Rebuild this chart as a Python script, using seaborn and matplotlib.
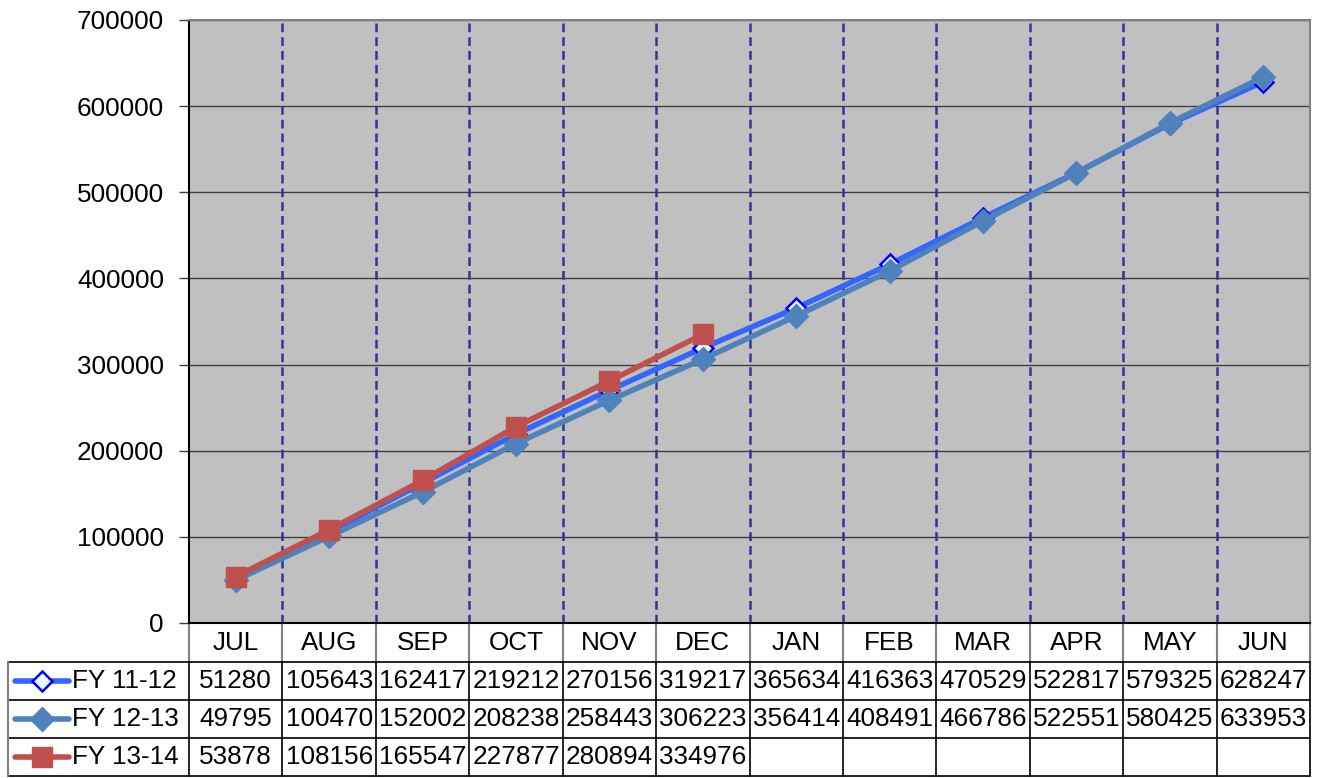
import matplotlib
matplotlib.use("Agg")
import matplotlib.pyplot as plt
import matplotlib.transforms as mtransforms
from matplotlib.lines import Line2D
import seaborn as sns
import pandas as pd
import numpy as np

# data
months = ["JUL", "AUG", "SEP", "OCT", "NOV", "DEC", "JAN", "FEB", "MAR", "APR", "MAY", "JUN"]
fy_11_12 = [51280, 105643, 162417, 219212, 270156, 319217, 365634, 416363, 470529, 522817, 579325, 628247]
fy_12_13 = [49795, 100470, 152002, 208238, 258443, 306223, 356414, 408491, 466786, 522551, 580425, 633953]
fy_13_14 = [53878, 108156, 165547, 227877, 280894, 334976]
series_names = ["FY 11-12", "FY 12-13", "FY 13-14"]

sns.set_style("white")
plt.rcParams["font.family"] = ["Liberation Sans", "DejaVu Sans"]
plt.rcParams["text.color"] = "black"
plt.rcParams["ytick.labelcolor"] = "black"
FS = 18.8

W, H = 1323, 778
fig = plt.figure(figsize=(W / 100, H / 100), dpi=100)
ax = fig.add_axes([189 / W, (H - 623) / H, (1310 - 189) / W, (623 - 20) / H])
ax.set_facecolor("#C0C0C0")

styles = {
    "FY 11-12": dict(color="#3366FF", marker="D", markersize=10, markerfacecolor="#E6FFFF",
                     markeredgecolor="#0000FF", markeredgewidth=1.8),
    "FY 12-13": dict(color="#4F81BD", marker="D", markersize=12, markerfacecolor="#4F81BD",
                     markeredgecolor="#4F81BD", markeredgewidth=1),
    "FY 13-14": dict(color="#C0504D", marker="s", markersize=15, markerfacecolor="#C0504D",
                     markeredgecolor="#C0504D", markeredgewidth=1),
}

rows = []
for name, vals in zip(series_names, [fy_11_12, fy_12_13, fy_13_14]):
    for i, v in enumerate(vals):
        rows.append({"series": name, "pos": i, "value": v})
df = pd.DataFrame(rows)

for k, name in enumerate(series_names):
    sub = df[df["series"] == name]
    sns.lineplot(data=sub, x="pos", y="value", ax=ax, linewidth=4, zorder=3 + k,
                 **styles[name])

ax.set_xlim(-0.5, len(months) - 0.5)
ax.set_ylim(0, 700000)
ax.set_yticks(np.arange(0, 700001, 100000))
ax.set_yticklabels([f"{t}" for t in range(0, 700001, 100000)], fontsize=FS, color="black")
ax.set_xticks([])
ax.set_xlabel("")
ax.set_ylabel("")
ax.tick_params(axis="y", length=7, width=1, color="#404040", pad=11, left=True)

# gridlines
for t in range(100000, 700001, 100000):
    ax.axhline(t, color="#404040", linewidth=1, zorder=1)
for b in np.arange(0.5, len(months) - 0.5, 1):
    ax.axvline(b, color="#333399", linewidth=1.8, linestyle=(0, (3.5, 2)), zorder=1)

for s in ["left", "bottom"]:
    ax.spines[s].set_color("black")
    ax.spines[s].set_linewidth(1.5)
ax.spines["top"].set_color("#808080")
ax.spines["right"].set_color("#808080")
ax.spines["top"].set_linewidth(1.5)
ax.spines["right"].set_linewidth(1.5)

# data table under the chart
tr = mtransforms.blended_transform_factory(ax.transData, ax.transAxes)
ph = 623 - 20
row_edges = [0, -39 / ph, -77 / ph, -115 / ph, -153 / ph]
left_x = -0.5 - (189 - 8) / ((1310 - 189) / 12)
nm = len(months)

# header row
for i, m in enumerate(months):
    ax.text(i, (row_edges[0] + row_edges[1]) / 2, m, transform=tr, ha="center", va="center",
            fontsize=FS, clip_on=False)
for b in np.arange(-0.5, nm, 1):
    ax.add_line(Line2D([b, b], [row_edges[0], row_edges[1]], transform=tr, color="#808080",
                       linewidth=1.5, clip_on=False))

# horizontal table lines
for y in row_edges[1:]:
    ax.add_line(Line2D([left_x, nm - 0.5], [y, y], transform=tr, color="black",
                       linewidth=1.2, clip_on=False))
ax.add_line(Line2D([left_x, left_x], [row_edges[1], row_edges[4]], transform=tr,
                   color="#808080", linewidth=1.5, clip_on=False))
for b in np.arange(-0.5, nm, 1):
    ax.add_line(Line2D([b, b], [row_edges[1], row_edges[4]], transform=tr, color="black",
                       linewidth=1.2, clip_on=False))

all_vals = [fy_11_12, fy_12_13, fy_13_14]
for r, name in enumerate(series_names):
    yc = (row_edges[r + 1] + row_edges[r + 2]) / 2
    # legend key
    x0, x1 = left_x + 0.08, left_x + 0.65
    st = styles[name]
    ax.add_line(Line2D([x0, x1], [yc, yc], transform=tr, color=st["color"], linewidth=4,
                       solid_capstyle="round", clip_on=False))
    ax.add_line(Line2D([(x0 + x1) / 2], [yc], transform=tr, color=st["color"], clip_on=False,
                       marker=st["marker"], markersize=st["markersize"],
                       markerfacecolor=st["markerfacecolor"], markeredgecolor=st["markeredgecolor"],
                       markeredgewidth=st["markeredgewidth"], linestyle="none"))
    ax.text(left_x + 0.68, yc, name, transform=tr, ha="left", va="center", fontsize=FS,
            clip_on=False)
    for i, v in enumerate(all_vals[r]):
        ax.text(i, yc, f"{v}", transform=tr, ha="center", va="center", fontsize=FS,
                clip_on=False)

fig.savefig("out.png", dpi=100)
